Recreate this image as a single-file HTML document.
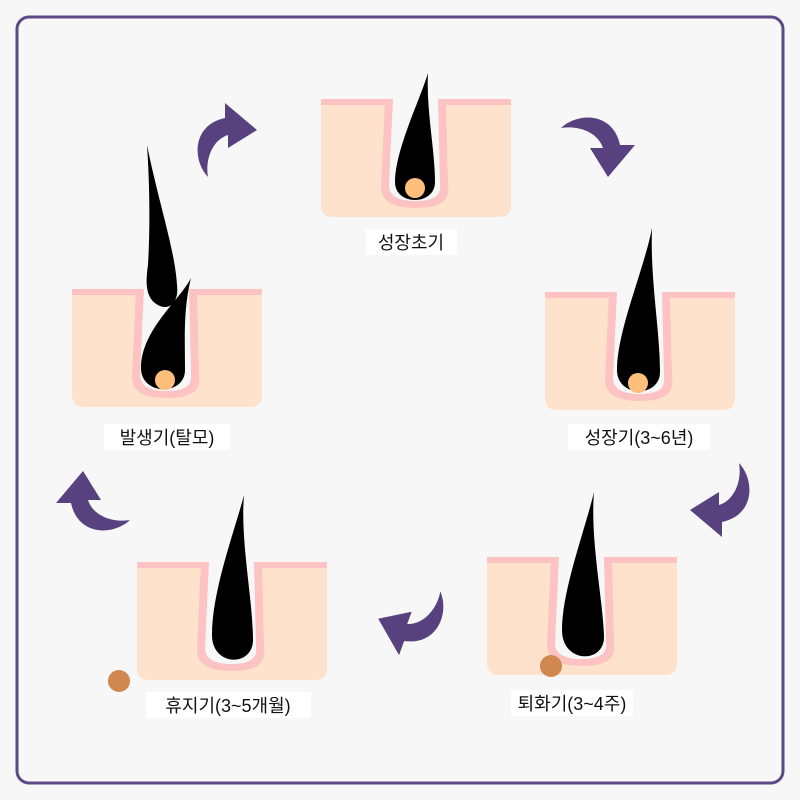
<!DOCTYPE html>
<html><head><meta charset="utf-8"><style>
html,body{margin:0;padding:0;background:#f7f7f7;}
svg{display:block;}
.lbl{font-family:"Liberation Sans","Noto Sans CJK KR",sans-serif;font-size:18px;fill:#111;}
</style></head><body>
<svg width="800" height="800" viewBox="0 0 800 800" xmlns="http://www.w3.org/2000/svg">
<defs>
<g id="fol">
<path d="M0,0 H190 V106 Q190,118 178,118 H12 Q0,118 0,106 Z" fill="#fee2cc"/>
<rect x="0" y="0" width="190" height="6" fill="#fdc3c3"/>
<path d="M64,0 L60,88 Q60,109 95,109 Q130,109 127,88 L125,0 Z" fill="#fdc3c3"/>
<path d="M72,0 L68,86 Q68,102 95,102 Q121,102 119,86 L117,0 Z" fill="#f7f7f7"/>
</g>
<path id="arr" d="M-17,42 C-33,25 -33,-10 0,-17 L0,-32 L32,-5 L3,13 L3,0 C-13,5 -20,25 -17,42 Z" fill="#57417f"/>
</defs>
<rect x="17" y="17" width="766" height="766" rx="12" fill="#f7f7f7" stroke="#5b4a86" stroke-width="3"/>

<use href="#fol" x="321" y="99"/>
<path d="M428,73 C420,100 395,150 395,182 C395,206 435,206 435,182 C435,150 426,110 428,73 Z" fill="#000"/>
<circle cx="415" cy="188" r="10" fill="#fdbf7a"/>
<rect x="366" y="229" width="91" height="26" fill="#fff"/>
<text class="lbl" x="411" y="249" text-anchor="middle">성장초기</text>

<use href="#fol" x="545" y="292"/>
<path d="M652,228 C644,270 617,330 617,370 C617,398 660,398 660,372 C660,330 650,280 652,228 Z" fill="#000"/>
<circle cx="638" cy="383" r="10" fill="#fdbf7a"/>
<rect x="568" y="424" width="142" height="26" fill="#fff"/>
<text class="lbl" x="639" y="444" text-anchor="middle">성장기(3~6년)</text>

<use href="#fol" x="72" y="289"/>
<path d="M147,145 C158,200 175,250 177,285 C179,302 170,310 160,306 C146,300 145,285 148,265 C150,230 150,190 147,145 Z" fill="#000"/>
<path d="M191,278 C180,300 141,330 141,368 C141,396 185,396 185,370 C185,340 183,310 191,278 Z" fill="#000"/>
<circle cx="165" cy="380" r="10" fill="#fdbf7a"/>
<rect x="104" y="424" width="126" height="26" fill="#fff"/>
<text class="lbl" x="167" y="444" text-anchor="middle">발생기(탈모)</text>

<use href="#fol" x="487" y="557"/>
<path d="M594,492 C585,530 562,590 562,630 C562,664 605,664 604,636 C603,600 590,540 594,492 Z" fill="#000"/>
<circle cx="551" cy="666" r="11" fill="#d08750"/>
<rect x="511" y="690" width="122" height="26" fill="#fff"/>
<text class="lbl" x="572" y="710" text-anchor="middle">퇴화기(3~4주)</text>

<use href="#fol" x="137" y="562"/>
<path d="M244,495 C235,530 212,590 212,635 C212,667 253,667 253,640 C253,600 240,540 244,495 Z" fill="#000"/>
<circle cx="119" cy="681" r="11" fill="#d08750"/>
<rect x="146" y="692" width="165" height="26" fill="#fff"/>
<text class="lbl" x="228" y="712" text-anchor="middle">휴지기(3~5개월)</text>

<use href="#arr" transform="translate(225,135)"/>
<use href="#arr" transform="translate(603,145) rotate(90)"/>
<use href="#arr" transform="translate(722,505) rotate(180)"/>
<use href="#arr" transform="translate(410,625) rotate(200)"/>
<use href="#arr" transform="translate(88,503) rotate(270)"/>
</svg>
</body></html>
